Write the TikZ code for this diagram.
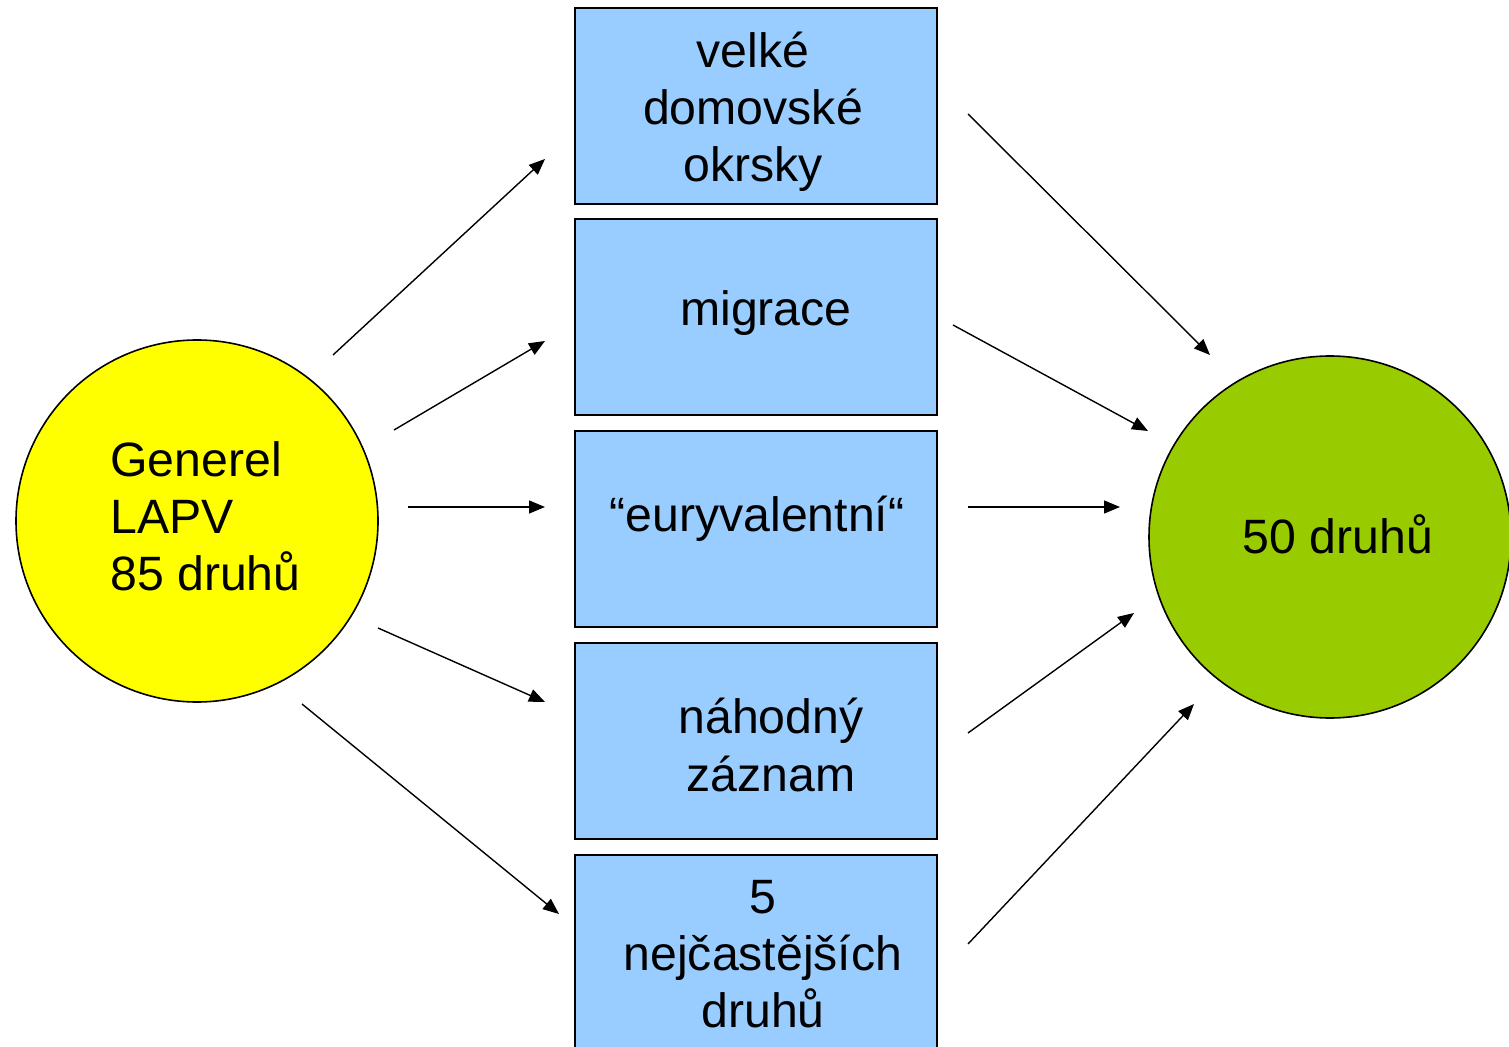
\documentclass[tikz,border=0pt]{standalone}
\usepackage{fontspec}
\setmainfont{Liberation Sans}
\usetikzlibrary{arrows.meta}
\definecolor{boxblue}{HTML}{99CCFF}
\definecolor{ylw}{HTML}{FFFF00}
\definecolor{grn}{HTML}{99CC00}
\begin{document}
\begin{tikzpicture}[x=0.5pt,y=-0.5pt,
  every node/.style={font=\fontsize{24.1}{28.6}\selectfont},
  boxnode/.style={draw=black, line width=0.9pt, fill=boxblue, minimum width=181pt, minimum height=98pt, inner sep=0pt},
  circnode/.style={circle, draw=black, line width=0.8pt, minimum size=181pt, inner sep=0pt},
  txt/.style={align=center, inner sep=0pt},
  conn/.style={line width=0.7pt, -{Triangle[length=8pt,width=6.5pt]}}]
\clip (0,0) rectangle (1509,1047);
\useasboundingbox (0,0) rectangle (1509,1047);
% circles
\node[circnode, fill=ylw] (src) at (197,521) {};
\node[circnode, fill=grn] (dst) at (1330,537) {};
\node[txt, align=left, anchor=west] (srct) at (110,516) {Generel\\LAPV\\85 druhů};
\node[txt] (dstt) at (1338,534) {50 druhů};
% boxes
\node[boxnode] (b1) at (756,106) {};
\node[boxnode] (b2) at (756,317) {};
\node[boxnode] (b3) at (756,529) {};
\node[boxnode] (b4) at (756,741) {};
\node[boxnode] (b5) at (756,953) {};
\node[txt] (t1) at (753,112) {velké\\domovské\\okrsky};
\node[txt] (t2) at (766,313) {migrace};
\node[txt] (t3) at (757,519) {“euryvalentní“};
\node[txt] (t4) at (771,745) {náhodný\\záznam};
\node[txt] (t5) at (763,954) {5\\nejčastějších\\druhů};
% connector end points
\coordinate (l1s) at (333,355); \coordinate (l1e) at (545,159);
\coordinate (l2s) at (394,430); \coordinate (l2e) at (545,341);
\coordinate (l3s) at (408,507); \coordinate (l3e) at (545,507);
\coordinate (l4s) at (378,628); \coordinate (l4e) at (545,702);
\coordinate (l5s) at (302,704); \coordinate (l5e) at (559,914);
\coordinate (r1s) at (968,114); \coordinate (r1e) at (1210,355);
\coordinate (r2s) at (953,325); \coordinate (r2e) at (1148,431);
\coordinate (r3s) at (968,507); \coordinate (r3e) at (1120,507);
\coordinate (r4s) at (968,733); \coordinate (r4e) at (1134,613);
\coordinate (r5s) at (968,944); \coordinate (r5e) at (1194,704);
\draw[conn] (l1s) -- (l1e);
\draw[conn] (l2s) -- (l2e);
\draw[conn] (l3s) -- (l3e);
\draw[conn] (l4s) -- (l4e);
\draw[conn] (l5s) -- (l5e);
\draw[conn] (r1s) -- (r1e);
\draw[conn] (r2s) -- (r2e);
\draw[conn] (r3s) -- (r3e);
\draw[conn] (r4s) -- (r4e);
\draw[conn] (r5s) -- (r5e);
\end{tikzpicture}
\end{document}
